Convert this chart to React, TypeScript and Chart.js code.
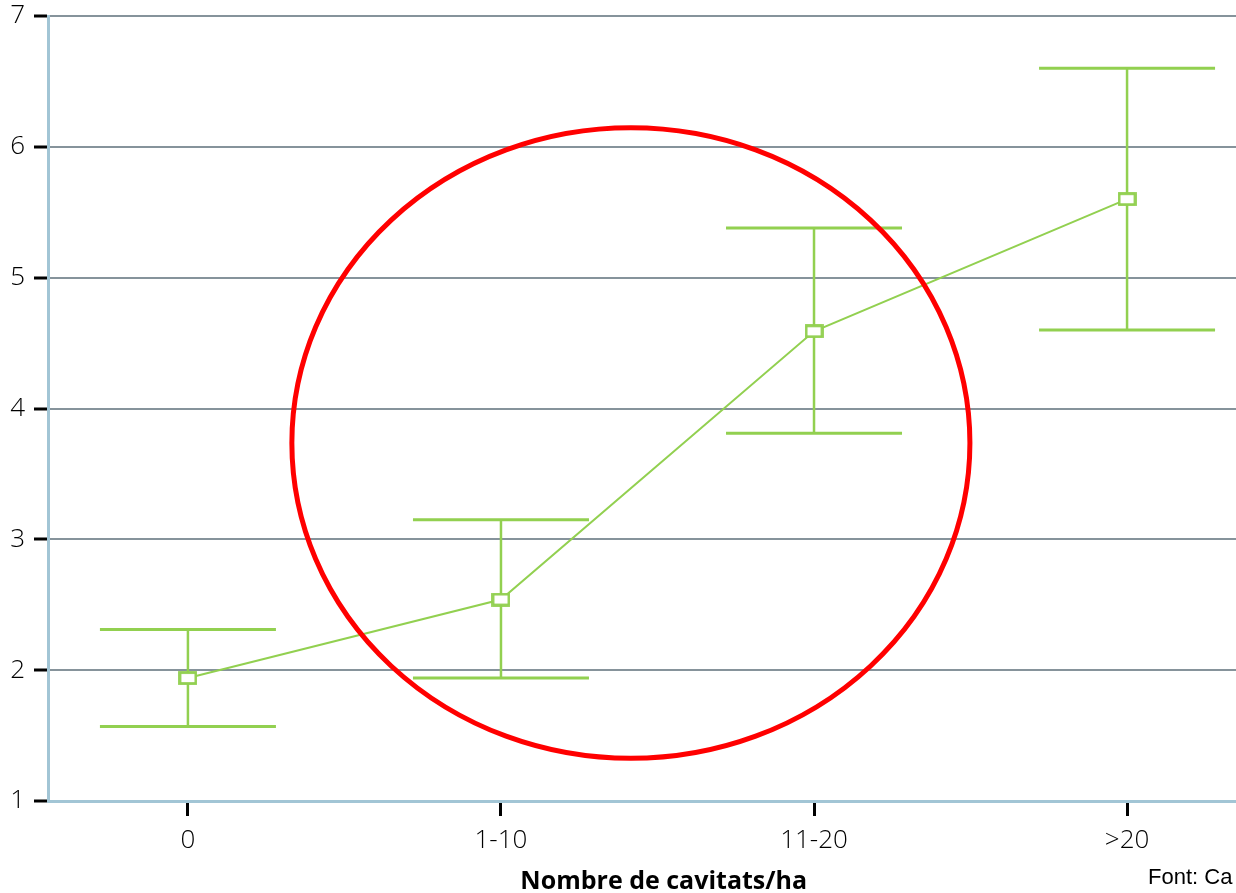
import React, { useEffect, useRef } from "react";
import { Chart, registerables } from "chart.js";

Chart.register(...registerables);

// Cavity density classes and the measured response (mean with interval bounds)
const categories = ["0", "1-10", "11-20", ">20"];
const means = [1.94, 2.54, 4.59, 5.6];
const upperBounds = [2.31, 3.15, 5.38, 6.6];
const lowerBounds = [1.57, 1.94, 3.81, 4.6];
const yTickValues = [1, 2, 3, 4, 5, 6, 7];

// Highlight ring, in data units (x = class index, y = value)
const ringCenter = [1.415, 3.736];
const ringRadii = [1.083, 2.41];

const xTitle = "Nombre de cavitats/ha";
const sourceNote = "Font: Ca";

const GREEN = "#92d050";
const TICK_FONT = "'Open Sans', 'Lato', sans-serif";

function makeMarker(): HTMLCanvasElement {
  const c = document.createElement("canvas");
  c.width = 19;
  c.height = 14;
  const g = c.getContext("2d")!;
  g.fillStyle = "#ffffff";
  g.fillRect(1.5, 1.5, 16, 11);
  g.strokeStyle = GREEN;
  g.lineWidth = 2.8;
  g.strokeRect(1.5, 1.5, 16, 11);
  return c;
}

const errorBars = {
  id: "errorBars",
  beforeDatasetsDraw(chart: any) {
    const { ctx, scales } = chart;
    const xs = scales.x;
    const ys = scales.y;
    ctx.save();
    ctx.strokeStyle = GREEN;
    ctx.lineCap = "butt";
    categories.forEach((_, i) => {
      const px = xs.getPixelForValue(i);
      const top = ys.getPixelForValue(upperBounds[i]);
      const bot = ys.getPixelForValue(lowerBounds[i]);
      ctx.lineWidth = 2.5;
      ctx.beginPath();
      ctx.moveTo(px, top);
      ctx.lineTo(px, bot);
      ctx.stroke();
      ctx.lineWidth = 3;
      ctx.beginPath();
      ctx.moveTo(px - 88, top);
      ctx.lineTo(px + 88, top);
      ctx.moveTo(px - 88, bot);
      ctx.lineTo(px + 88, bot);
      ctx.stroke();
    });
    ctx.restore();
  },
};

const overlay = {
  id: "overlay",
  afterDraw(chart: any) {
    const { ctx, scales } = chart;
    const xs = scales.x;
    const ys = scales.y;
    // red highlight ring
    const cx = xs.getPixelForValue(ringCenter[0]);
    const cy = ys.getPixelForValue(ringCenter[1]);
    const rx = xs.getPixelForValue(ringCenter[0] + ringRadii[0]) - cx;
    const ry = cy - ys.getPixelForValue(ringCenter[1] + ringRadii[1]);
    ctx.save();
    ctx.strokeStyle = "#ff0000";
    ctx.lineWidth = 5;
    ctx.beginPath();
    ctx.ellipse(cx, cy, rx, ry, 0, 0, Math.PI * 2);
    ctx.stroke();

    // axis title
    ctx.fillStyle = "#000000";
    ctx.font = "bold 25px 'Open Sans', 'Lato', sans-serif";
    ctx.textAlign = "center";
    ctx.textBaseline = "alphabetic";
    ctx.fillText(xTitle, xs.getPixelForValue(1.52), 889);

    // source note
    ctx.font = "22px 'Liberation Sans', Arial, sans-serif";
    ctx.textAlign = "left";
    ctx.fillText(sourceNote, 1148, 884);
    ctx.restore();
  },
};

export default function App() {
  const ref = useRef<HTMLCanvasElement | null>(null);

  useEffect(() => {
    if (!ref.current) return;
    const marker = makeMarker();
    const chart = new Chart(ref.current, {
      type: "line",
      data: {
        datasets: [
          {
            data: means.map((y, i) => ({ x: i, y })),
            borderColor: GREEN,
            borderWidth: 2,
            pointStyle: marker as any,
            pointRadius: 8,
            fill: false,
            tension: 0,
          },
        ],
      },
      options: {
        animation: false,
        responsive: false,
        layout: { autoPadding: false, padding: { top: 16, left: 0, right: 0, bottom: 0 } },
        plugins: {
          legend: { display: false },
          tooltip: { enabled: false },
        },
        scales: {
          x: {
            type: "linear",
            min: -0.447,
            max: 3.348,
            afterBuildTicks: (scale: any) => {
              scale.ticks = categories.map((_, i) => ({ value: i }));
            },
            afterFit: (scale: any) => {
              scale.height = 92;
              scale.paddingLeft = 0;
              scale.paddingRight = 0;
            },
            ticks: {
              callback: (v: any) => categories[v as number] ?? "",
              color: "#000000",
              font: { family: TICK_FONT, size: 26, weight: 300 as any },
              padding: 9,
              maxRotation: 0,
              autoSkip: false,
            },
            grid: {
              display: true,
              drawOnChartArea: false,
              drawTicks: true,
              tickLength: 15,
              tickWidth: 3,
              tickColor: "#000000",
            },
            border: { display: true, color: "#a2c5d5", width: 3 },
          },
          y: {
            type: "linear",
            min: 1,
            max: 7,
            afterBuildTicks: (scale: any) => {
              scale.ticks = yTickValues.map((value) => ({ value }));
            },
            afterFit: (scale: any) => {
              scale.width = 48;
              scale.paddingTop = 0;
              scale.paddingBottom = 0;
            },
            ticks: {
              color: "#000000",
              font: { family: TICK_FONT, size: 26, weight: 300 as any },
              padding: 9,
            },
            grid: {
              color: "#86939b",
              lineWidth: 2,
              drawTicks: true,
              tickLength: 14,
              tickWidth: 3,
              tickColor: "#000000",
            },
            border: { display: true, color: "#a2c5d5", width: 3 },
          },
        },
      },
      plugins: [errorBars, overlay],
    });
    return () => chart.destroy();
  }, []);

  return (
    <div style={{ position: "absolute", left: 0, top: 0, width: 1236, height: 893, background: "#ffffff" }}>
      <canvas ref={ref} width={1236} height={893} />
    </div>
  );
}
